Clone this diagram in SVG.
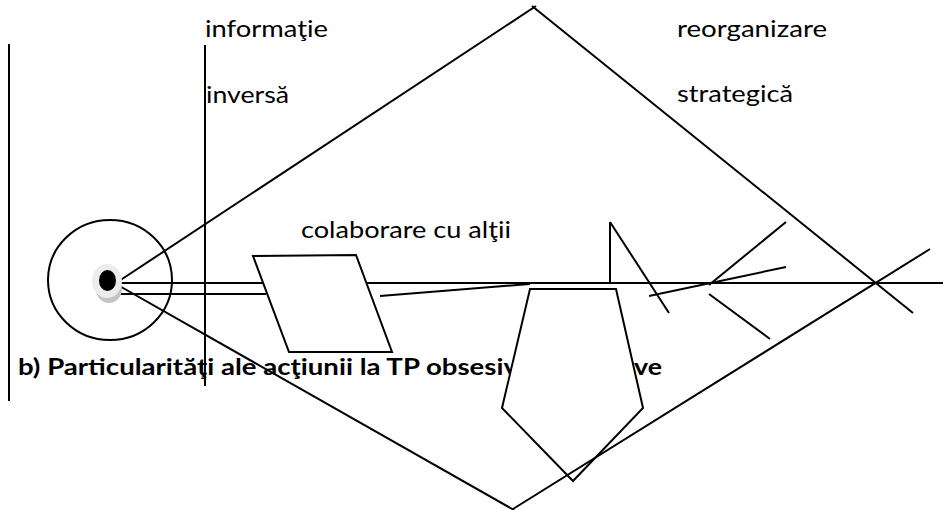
<svg xmlns="http://www.w3.org/2000/svg" width="943" height="510" viewBox="0 0 943 510">
<style>
.ln{stroke:#000;stroke-width:2;fill:none;stroke-linecap:butt}
.sh{stroke:#000;stroke-width:2;fill:#fff;stroke-linejoin:miter}
.t{font-family:Lato,"Open Sans","Liberation Sans",sans-serif;font-size:23px;fill:#000}
.b{font-family:Lato,"Open Sans","Liberation Sans",sans-serif;font-size:22px;font-weight:bold;fill:#000}
</style>
<rect width="943" height="510" fill="#fff"/>
<g id="labels">
<text class="t" x="205" y="37" textLength="123" lengthAdjust="spacingAndGlyphs">informaţie</text>
<text class="t" x="206" y="103" textLength="83" lengthAdjust="spacingAndGlyphs">inversă</text>
<text class="t" x="677" y="37" textLength="150" lengthAdjust="spacingAndGlyphs">reorganizare</text>
<text class="t" x="677" y="102" textLength="116" lengthAdjust="spacingAndGlyphs">strategică</text>
<text class="t" x="301" y="238" textLength="210" lengthAdjust="spacingAndGlyphs">colaborare cu alţii</text>
<text class="b" x="18" y="375" textLength="500" lengthAdjust="spacingAndGlyphs">b) Particularităţi ale acţiunii la TP obsesiv</text>
<text class="b" x="634" y="375" textLength="28" lengthAdjust="spacingAndGlyphs">ve</text>
</g>
<g id="connectors">
<line class="ln" x1="9" y1="44" x2="9" y2="401"/>
<line class="ln" x1="205" y1="45" x2="205" y2="386"/>
<line class="ln" x1="116" y1="283" x2="536" y2="6"/>
<line class="ln" x1="532" y1="6" x2="913" y2="313"/>
<line class="ln" x1="116" y1="284" x2="514" y2="510"/>
<line class="ln" x1="116" y1="283" x2="943" y2="283"/>
<line class="ln" x1="120" y1="294" x2="266" y2="294"/>
<line class="ln" x1="380" y1="296" x2="530" y2="284"/>
<line class="ln" x1="610" y1="283" x2="610" y2="222"/>
<line class="ln" x1="610" y1="222" x2="669" y2="313"/>
<line class="ln" x1="649" y1="296" x2="786" y2="267"/>
<line class="ln" x1="709" y1="285" x2="786" y2="222"/>
<line class="ln" x1="709" y1="294" x2="770" y2="339"/>
</g>
<g id="eye">
<ellipse cx="110" cy="280" rx="62" ry="60" class="ln"/>
<ellipse cx="109" cy="289" rx="13" ry="14" fill="#c4c4c4"/>
<ellipse cx="107" cy="281" rx="15" ry="17" fill="#ececec"/>
<ellipse cx="107.5" cy="280.5" rx="8.5" ry="10.5" fill="#000"/>
</g>
<g id="parallelogram">
<polygon class="sh" points="253,256 356,255 392,352 289,352"/>
</g>
<g id="pentagon">
<polygon class="sh" points="530,289 616,289 643,408 573,481 502,408"/>
</g>
<g id="connectors-top">
<line class="ln" x1="513" y1="509" x2="930" y2="249"/>
</g>
</svg>
